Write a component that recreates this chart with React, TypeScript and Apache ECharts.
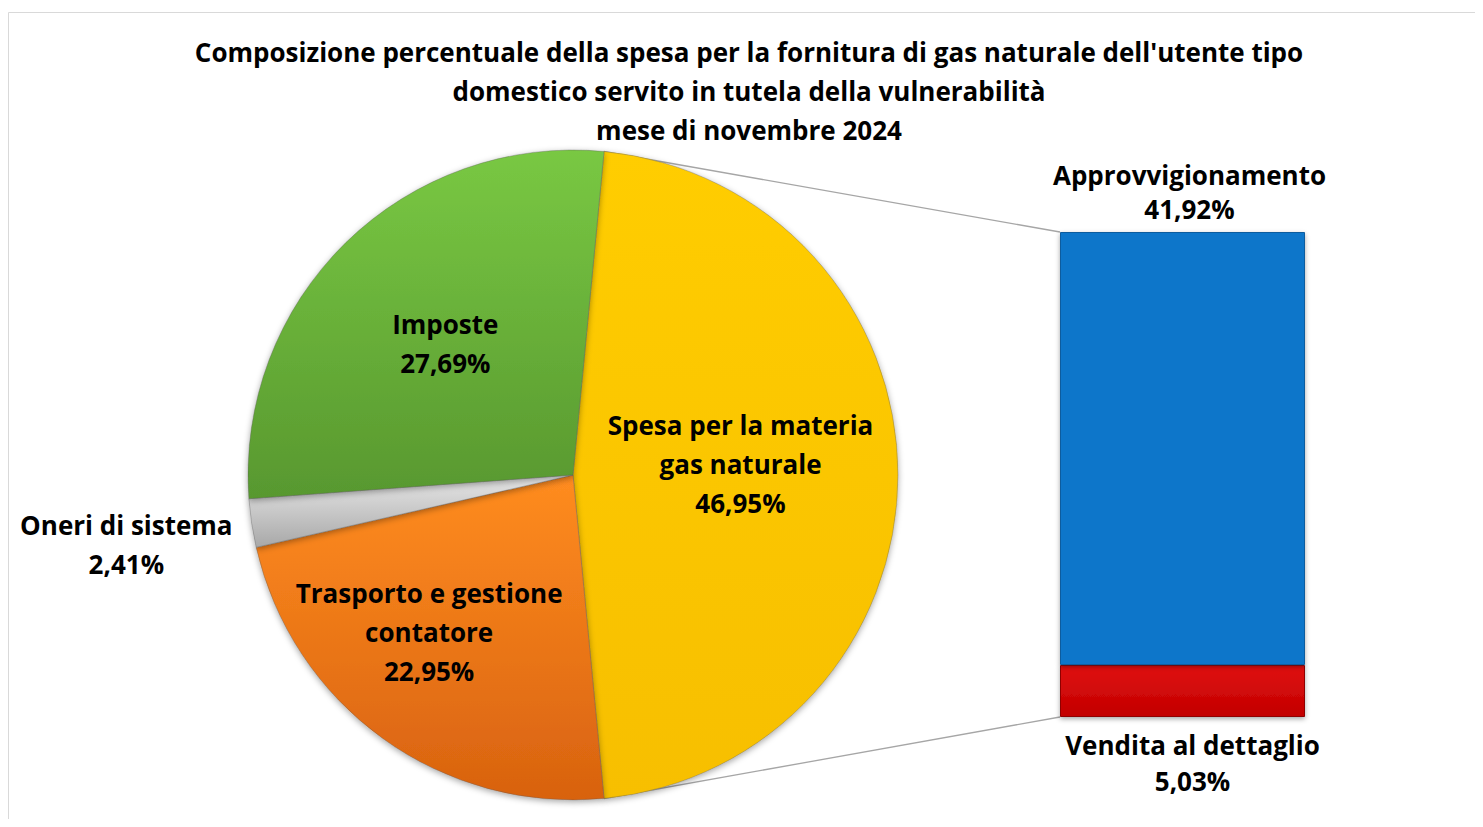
import React, { useEffect, useRef } from "react";
import * as echarts from "echarts";

const TITLE_LINES = [
  "Composizione percentuale della spesa per la fornitura di gas naturale dell'utente tipo",
  "domestico servito in tutela della vulnerabilità",
  "mese di novembre 2024",
];

const pieNames = [
  "Spesa per la materia\ngas naturale",
  "Trasporto e gestione\ncontatore",
  "Oneri di sistema",
  "Imposte",
];
const pieValues = [46.95, 22.95, 2.41, 27.69];

const barNames = ["Vendita al dettaglio", "Approvvigionamento"];
const barValues = [5.03, 41.92];

const FONT = "'Open Sans', Lato, sans-serif";
const FS = 26;
const fmt = (v: number) => v.toFixed(2).replace(".", ",") + "%";

const grad = (top: string, bottom: string) =>
  new echarts.graphic.LinearGradient(0, 0, 0, 1, [
    { offset: 0, color: top },
    { offset: 1, color: bottom },
  ]);

export default function App() {
  const ref = useRef<HTMLDivElement>(null);
  useEffect(() => {
    if (!ref.current) return;
    const chart = echarts.init(ref.current, undefined, { renderer: "svg" });

    const W = ref.current.clientWidth;
    const cx = 565;
    const cy = 467;
    const R = 325;
    const pieTotal = pieValues.reduce((a, b) => a + b, 0);
    const startAngle = ((pieValues[0] / pieTotal) * 360) / 2;
    const rad = (startAngle * Math.PI) / 180;
    const topPt = [cx + R * Math.cos(rad), cy - R * Math.sin(rad)];
    const botPt = [cx + R * Math.cos(rad), cy + R * Math.sin(rad)];

    const gLeft = 1052;
    const gTop = 224;
    const gW = 245;
    const gH = 485;

    const pieColors = [
      grad("#ffcd05", "#f7bf00"),
      grad("#ff8c20", "#d8620f"),
      grad("#e8e8e8", "#a8a8a8"),
      grad("#79c843", "#58982f"),
    ];
    const labelShift = [
      { dx: 2, dy: -11 },
      { dx: -47, dy: 23 },
      { dx: -283, dy: 45 },
      { dx: -12, dy: -13 },
    ];

    const textStyle = {
      fontFamily: FONT,
      fontSize: FS,
      fontWeight: "bold" as const,
      color: "#000",
      lineHeight: 39,
    };

    chart.setOption({
      animation: false,
      backgroundColor: "#fff",
      graphic: [
        {
          type: "rect",
          shape: { x: 0.5, y: 4.5, width: W + 40, height: 900 },
          style: { fill: "none", stroke: "#d9d9d9", lineWidth: 1 },
          silent: true,
          z: -1,
        },
        {
          type: "text",
          x: 741,
          y: 24,
          style: {
            text: TITLE_LINES.join("\n"),
            align: "center",
            textAlign: "center",
            fontFamily: FONT,
            fontSize: FS,
            fontWeight: "bold",
            lineHeight: 39,
            fill: "#000",
          },
        },
        {
          type: "line",
          shape: { x1: topPt[0], y1: topPt[1], x2: gLeft, y2: gTop },
          style: { stroke: "#a6a6a6", lineWidth: 1.3 },
        },
        {
          type: "line",
          shape: { x1: botPt[0], y1: botPt[1], x2: gLeft, y2: gTop + gH },
          style: { stroke: "#a6a6a6", lineWidth: 1.3 },
        },
      ],
      grid: { left: gLeft, top: gTop, width: gW, height: gH },
      xAxis: { type: "category", data: ["bar"], show: false },
      yAxis: {
        type: "value",
        min: 0,
        max: barValues.reduce((a, b) => a + b, 0),
        show: false,
      },
      series: [
        {
          type: "pie",
          center: [cx, cy],
          radius: [0, R],
          startAngle,
          clockwise: true,
          avoidLabelOverlap: false,
          data: pieNames.map((n, i) => ({
            name: n,
            value: pieValues[i],
            itemStyle: { color: pieColors[i] },
          })),
          itemStyle: {
            borderColor: "rgba(90,90,90,0.35)",
            borderWidth: 1,
            shadowBlur: 6,
            shadowColor: "rgba(0,0,0,0.35)",
            shadowOffsetY: 2,
          },
          label: {
            show: true,
            position: "inside",
            formatter: (p: any) => `${p.name}\n${fmt(p.value)}`,
            ...textStyle,
          },
          labelLine: { show: false },
          labelLayout: (p: any) => labelShift[p.dataIndex],
          emphasis: { disabled: true },
        },
        {
          type: "bar",
          stack: "s",
          name: barNames[0],
          barWidth: "100%",
          data: [barValues[0]],
          itemStyle: {
            color: grad("#e01010", "#c20000"),
            borderColor: "#8f0000",
            borderWidth: 1,
            shadowBlur: 5,
            shadowColor: "rgba(0,0,0,0.35)",
            shadowOffsetY: 2,
          },
          label: {
            show: true,
            position: "bottom",
            distance: 10,
            offset: [10, 0],
            formatter: (p: any) => `${barNames[0]}\n${fmt(p.value)}`,
            ...textStyle,
            lineHeight: 36,
          },
          emphasis: { disabled: true },
        },
        {
          type: "bar",
          stack: "s",
          name: barNames[1],
          barWidth: "100%",
          data: [barValues[1]],
          itemStyle: {
            color: "#0876ca",
            borderColor: "#0a5c9e",
            borderWidth: 1,
            shadowBlur: 5,
            shadowColor: "rgba(0,0,0,0.35)",
            shadowOffsetY: 2,
          },
          label: {
            show: true,
            position: "top",
            distance: 6,
            offset: [7, 0],
            formatter: (p: any) => `${barNames[1]}\n${fmt(p.value)}`,
            ...textStyle,
            lineHeight: 34,
          },
          emphasis: { disabled: true },
        },
      ],
    });
    return () => chart.dispose();
  }, []);
  return <div ref={ref} style={{ width: "100%", height: 811 }} />;
}
